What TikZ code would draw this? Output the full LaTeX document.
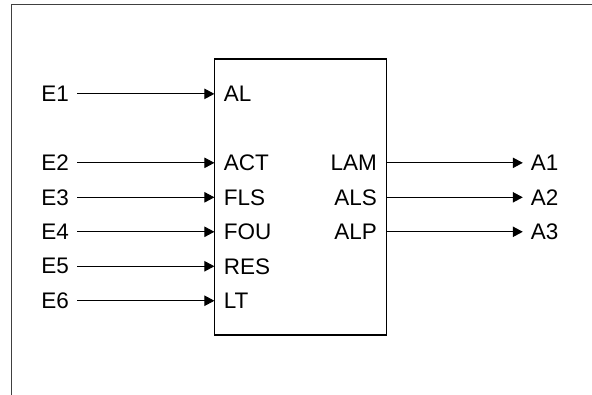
\documentclass[tikz,border=0pt]{standalone}
\usepackage{fontspec}
\setmainfont{Liberation Sans}
\usepackage{tikz}
\usetikzlibrary{arrows.meta,calc}

\begin{document}
\begin{tikzpicture}[>={Triangle[length=0.25cm,width=0.26cm]},
    font=\fontsize{16}{19}\selectfont,
    wire/.style={line width=0.7pt, ->},
    sig/.style={inner xsep=5.5pt, inner ysep=0pt},
    port/.style={inner xsep=6.5pt, inner ysep=0pt}]

    %% Background
    \useasboundingbox (0,0) rectangle (14.8,9.875);

    % Frame
    \draw[black!75, line width=1.1pt] (0.29,0) -- (0.29,9.76) -- (14.8,9.76);

    % Block
    \node[draw, line width=1.2pt, minimum width=4.3cm, minimum height=6.9cm,
        inner sep=0pt] (blk) at (7.51,4.945) {};

    % Inputs
    \foreach \ext/\lbl/\k in {E1/AL/1, E2/ACT/3, E3/FLS/4, E4/FOU/5, E5/RES/6, E6/LT/7}
    {
    \pgfmathsetmacro\yy{8.39-\k*0.862}
    \node[port, anchor=west] (in\k) at (5.36,\yy) {\lbl};
    \node[sig, anchor=east] (e\k) at (1.925,\yy) {\ext};
    \draw[wire] (e\k) -- (in\k.west);
    }

    % Outputs
    \foreach \ext/\lbl/\k in {A1/LAM/3, A2/ALS/4, A3/ALP/5}
    {
    \pgfmathsetmacro\yy{8.39-\k*0.862}
    \node[port, anchor=east] (out\k) at (9.66,\yy) {\lbl};
    \node[sig, anchor=west] (a\k) at (13.07,\yy) {\ext};
    \draw[wire] (out\k.east) -- (a\k);
    }

\end{tikzpicture}
\end{document}
